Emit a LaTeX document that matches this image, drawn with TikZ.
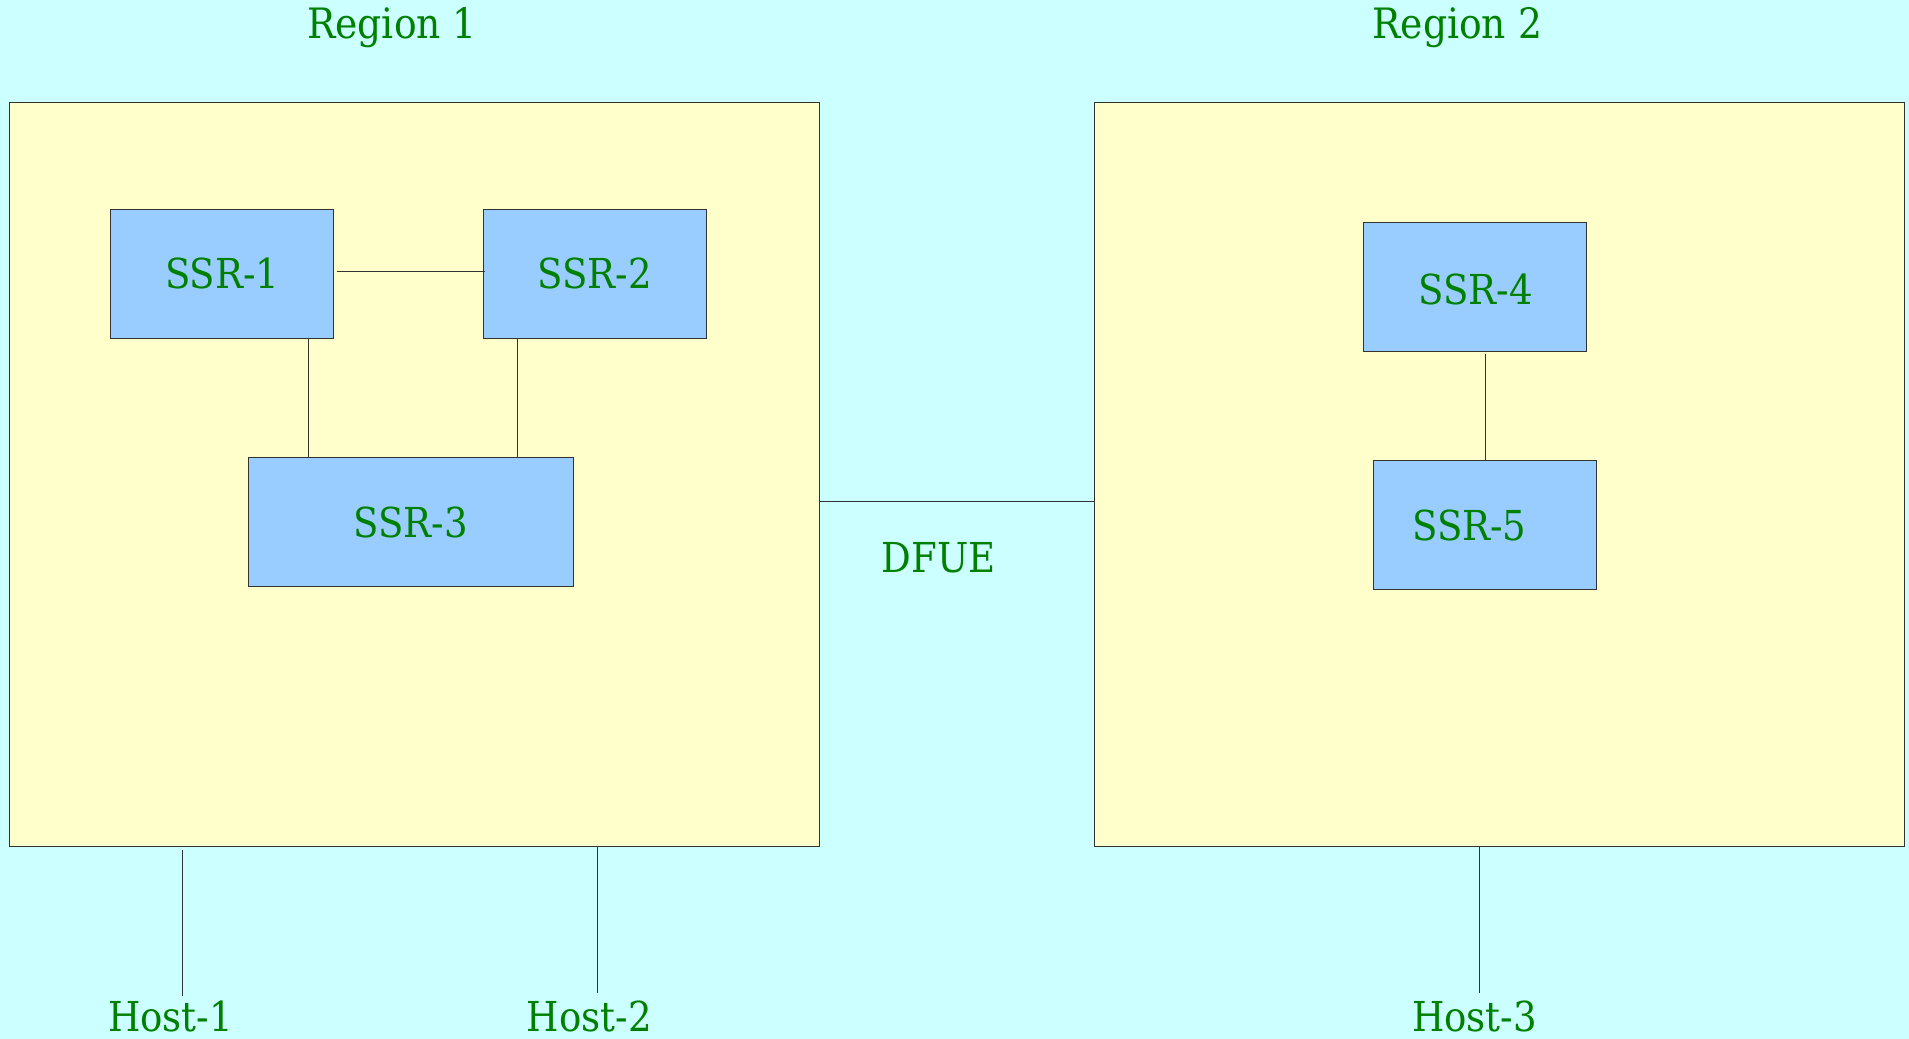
\documentclass[tikz,border=0pt]{standalone}
\usepackage{fontspec}
\setmainfont{DejaVu Serif Condensed}
\definecolor{bgc}{HTML}{CCFFFF}
\definecolor{regc}{HTML}{FFFFCC}
\definecolor{ssrc}{HTML}{99CCFF}
\definecolor{txtc}{HTML}{008000}
\definecolor{linec}{HTML}{333333}
\tikzset{
  regionbox/.style={draw=linec, line width=0.8bp, fill=regc, inner sep=0pt},
  ssrbox/.style={draw=linec, line width=0.8bp, fill=ssrc, text=txtc, font=\fontsize{34}{40}\selectfont, inner sep=0pt, minimum height=106bp},
  lbl/.style={text=txtc, font=\fontsize{34}{40}\selectfont, inner sep=0pt},
  rlbl/.style={text=txtc, font=\fontsize{34.5}{40}\selectfont, inner sep=0pt},
  conn/.style={draw=linec, line width=0.8bp}
}
\begin{document}
\begin{tikzpicture}[x=1bp, y=-1bp]
\useasboundingbox (0,0) rectangle (1568,853);
\fill[bgc] (0,0) rectangle (1568,853);
% regions
\node[regionbox, minimum width=665bp, minimum height=611bp] (r1) at (340.5,389.5) {};
\node[regionbox, minimum width=665bp, minimum height=611bp] (r2) at (1231.5,389.5) {};
\node[rlbl] (reg1) at (322,23) {Region 1};
\node[rlbl] (reg2) at (1197,23) {Region 2};
% SSR nodes
\node[ssrbox, minimum width=183bp] (s1) at (182.5,225) {SSR-1};
\node[ssrbox, minimum width=183bp] (s2) at (488.5,225) {SSR-2};
\node[ssrbox, minimum width=267bp] (s3) at (337.5,429) {SSR-3};
\node[ssrbox, minimum width=183bp] (s4) at (1211.5,236) {};
\node[lbl] (t4) at (1212,238) {SSR-4};
\node[ssrbox, minimum width=183bp] (s5) at (1219.5,431) {};
\node[lbl] (t5) at (1207,432) {SSR-5};
% connectors
\draw[conn] ([xshift=2bp]s1.east |- 0,223) -- ([xshift=2bp]s2.west |- 0,223);
\draw[conn] (253,0 |- s1.south) -- (253,0 |- s3.north);
\draw[conn] (425,0 |- s2.south) -- (425,0 |- s3.north);
\draw[conn] (1220,291) -- (1220,0 |- s5.north);
\draw[conn] (r1.east |- 0,412) -- (r2.west |- 0,412);
\node[lbl] (dfue) at (771,458) {DFUE};
% hosts
\node[lbl] (h1) at (140,835) {Host-1};
\node[lbl] (h2) at (484,835) {Host-2};
\node[lbl] (h3) at (1211,835) {Host-3};
\coordinate (h1t) at (150,818);
\coordinate (h2t) at (491,816);
\coordinate (h3t) at (1215,816);
\draw[conn] (150,698) -- (h1t);
\draw[conn] (491,0 |- r1.south) -- (h2t);
\draw[conn] (1215,0 |- r2.south) -- (h3t);
\end{tikzpicture}
\end{document}
